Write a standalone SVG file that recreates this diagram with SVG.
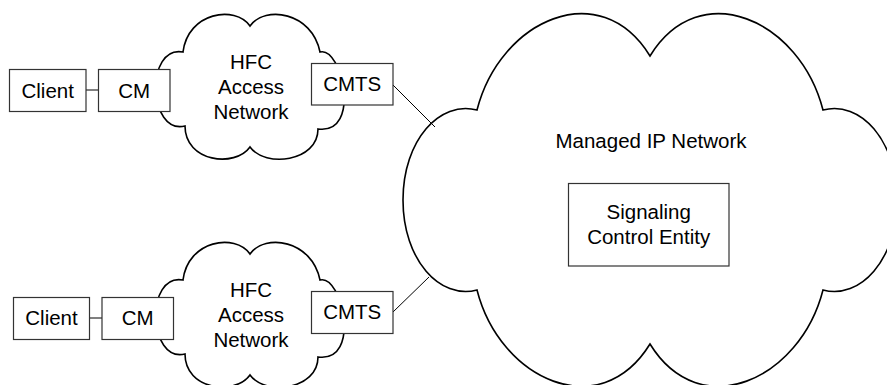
<svg xmlns="http://www.w3.org/2000/svg" width="887" height="385" viewBox="0 0 887 385">
<defs>
<style>
.cloud{fill:#fff;stroke:#000;stroke-width:1.6;stroke-linejoin:miter}
.box{fill:#fff;stroke:#333;stroke-width:1.2}
.conn{stroke:#000;stroke-width:1;fill:none}
text{font-family:"Liberation Sans",Arial,sans-serif;font-size:20.5px;fill:#000;text-anchor:middle}
</style>
<path id="hfc" d="M183,52 C188,12 235,5 250,26 C265,5 312,12 320,52 C342,46 362,135 318,129 C318,162 265,168 250,147 C235,168 185,162 185,126 C148,135 145,45 183,52 Z"/>
</defs>
<rect width="887" height="385" fill="#fff"/>

<g id="ip-network">
<path class="cloud" d="M477,110 C500,20 600,-25 650,56 C700,-25 800,20 823,110 C860,100 897,140 897,200 C897,260 860,300 823,290 C800,380 700,425 650,344 C600,425 500,380 477,290 C440,300 403,260 403,200 C403,140 440,100 477,110 Z"/>
<text x="651" y="148">Managed IP Network</text>
</g>

<g id="hfc-top">
<use href="#hfc" class="cloud"/>
<text x="251" y="69">HFC</text>
<text x="251" y="94">Access</text>
<text x="251" y="119">Network</text>
</g>

<g id="hfc-bottom">
<use href="#hfc" class="cloud" transform="translate(0,228)"/>
<text x="251" y="297">HFC</text>
<text x="251" y="322">Access</text>
<text x="251" y="347">Network</text>
</g>

<g id="connectors">
<line class="conn" x1="86" y1="90" x2="98" y2="90"/>
<line class="conn" x1="89" y1="318" x2="102" y2="318"/>
<line class="conn" x1="393" y1="85" x2="435" y2="127"/>
<line class="conn" x1="393" y1="312" x2="429" y2="277"/>
</g>

<g id="client-top">
<rect class="box" x="9.5" y="69.5" width="76.5" height="42"/>
<text x="47.7" y="97.5">Client</text>
</g>
<g id="cm-top">
<rect class="box" x="98.5" y="69.5" width="71.5" height="42"/>
<text x="134.2" y="97.5">CM</text>
</g>
<g id="cmts-top">
<rect class="box" x="311.5" y="63.5" width="81.5" height="41.5"/>
<text x="352.2" y="91">CMTS</text>
</g>

<g id="client-bottom">
<rect class="box" x="13.5" y="297.5" width="76" height="42"/>
<text x="51.5" y="325">Client</text>
</g>
<g id="cm-bottom">
<rect class="box" x="102" y="297.5" width="71.5" height="42"/>
<text x="137.7" y="325">CM</text>
</g>
<g id="cmts-bottom">
<rect class="box" x="311.5" y="291.5" width="81.5" height="42"/>
<text x="352.2" y="319">CMTS</text>
</g>

<g id="sce">
<rect class="box" x="568.5" y="183.5" width="160.5" height="82.5"/>
<text x="648.7" y="218.5">Signaling</text>
<text x="648.7" y="244">Control Entity</text>
</g>
</svg>
